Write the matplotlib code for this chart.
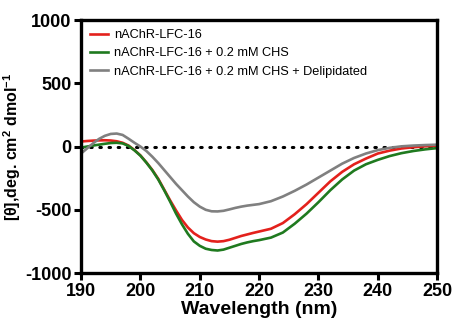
import matplotlib.pyplot as plt

plt.rcParams['font.family'] = ['Liberation Sans', 'DejaVu Sans']
plt.rcParams['axes.unicode_minus'] = False

# wavelength (nm)
wl = [190, 191, 192, 193, 194, 195, 196, 197, 198, 199, 200, 201, 202, 203, 204, 205,
      206, 207, 208, 209, 210, 211, 212, 213, 214, 215, 216, 217, 218, 219, 220, 222,
      224, 226, 228, 230, 232, 234, 236, 238, 240, 242, 244, 246, 248, 250]

# mean residue ellipticity
lfc16 = [40, 44, 47, 49, 50, 48, 42, 30, 8, -28, -70, -125, -185, -255, -340, -425,
         -505, -580, -640, -685, -715, -735, -748, -752, -748, -737, -722, -707, -695, -683, -672, -650,
         -605, -535, -455, -365, -275, -200, -140, -95, -55, -32, -15, -5, 2, 5]
lfc16_chs = [-8, 0, 8, 15, 22, 28, 30, 25, 5, -30, -72, -127, -188, -260, -345, -435,
             -530, -615, -690, -750, -785, -808, -818, -822, -815, -800, -785, -770, -758, -748, -740, -720,
             -680, -610, -530, -440, -345, -260, -190, -140, -105, -75, -52, -35, -22, -12]
lfc16_chs_delip = [-55, -15, 25, 60, 85, 100, 103, 92, 62, 30, 0, -35, -80, -130, -185, -240,
                   -295, -345, -395, -440, -475, -500, -512, -513, -508, -497, -485, -475, -467, -461, -455, -432,
                   -395, -350, -300, -245, -190, -135, -90, -55, -28, -10, 2, 8, 12, 15]

labels = ['nAChR-LFC-16',
          'nAChR-LFC-16 + 0.2 mM CHS',
          'nAChR-LFC-16 + 0.2 mM CHS + Delipidated']
colors = ['#e3211c', '#1f7a1f', '#808080']

fig = plt.figure(figsize=(4.53, 3.25), dpi=100)
ax = fig.add_axes([0.179, 0.16, 0.786, 0.778])

ax.axhline(0, color='black', linestyle=(0, (0.5, 2.5)), linewidth=2.2,
           dash_capstyle='round', zorder=1)

for y, lab, c in zip([lfc16, lfc16_chs, lfc16_chs_delip], labels, colors):
    ax.plot(wl, y, color=c, linewidth=1.9, label=lab, zorder=2)

ax.set_xlim(190, 250)
ax.set_ylim(-1000, 1000)
ax.set_xticks([190, 200, 210, 220, 230, 240, 250])
ax.set_yticks([-1000, -500, 0, 500, 1000])

for s in ax.spines.values():
    s.set_linewidth(2.4)
ax.tick_params(width=2.2, length=5, direction='out', labelsize=13, pad=2)
for t in ax.get_xticklabels() + ax.get_yticklabels():
    t.set_fontweight('bold')

ax.set_xlabel('Wavelength (nm)', fontsize=14, fontweight='bold', labelpad=1)
ax.set_ylabel(r'[$\mathregular{\theta}$],deg. cm$\mathregular{^2}$ dmol$\mathregular{^{-1}}$',
              fontsize=11.5, fontweight='bold', labelpad=1)

ax.legend(loc='upper left', frameon=False, fontsize=9.2, handlelength=1.4,
          handletextpad=0.5, labelspacing=0.5, borderaxespad=0.3)

fig.savefig('out.png', dpi=100)
